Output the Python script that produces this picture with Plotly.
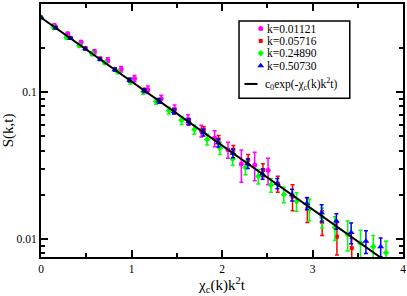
import plotly.graph_objects as go

# ---- data ----
pink_x = [0.1476 * i for i in range(18)]
pink_y = [0.320, 0.2836, 0.2484, 0.2172, 0.1874, 0.1643, 0.1428, 0.1231, 0.1035, 0.0899,
          0.0765, 0.0651, 0.0544, 0.0485, 0.0405, 0.0324, 0.0319, 0.0294]
pink_err = [0.004, 0.006, 0.006, 0.006, 0.006, 0.006, 0.006, 0.006, 0.006, 0.005,
            0.005, 0.005, 0.005, 0.006, 0.005, 0.008, 0.007, 0.006]

red_x = [0.1635 * i for i in range(22)]
red_y = [0.320, 0.2740, 0.2330, 0.1975, 0.1680, 0.1425, 0.1210, 0.1028, 0.0873, 0.0742,
         0.0630, 0.0549, 0.0475, 0.0405, 0.0346, 0.0295, 0.0238, 0.0195, 0.0161, 0.0131,
         0.0104, 0.0087]
red_err = [0.004, 0.004, 0.004, 0.004, 0.004, 0.003, 0.003, 0.003, 0.003, 0.003,
           0.003, 0.003, 0.003, 0.0028, 0.003, 0.003, 0.003, 0.0039, 0.0031, 0.0025,
           0.0026, 0.0014]

green_x = [0.1412 * i for i in range(28)]
green_y = [0.320, 0.2737, 0.2348, 0.2064, 0.1819, 0.1580, 0.1372, 0.1173, 0.1006, 0.0864,
           0.0748, 0.0641, 0.0555, 0.0476, 0.0416, 0.0351, 0.0307, 0.0267, 0.0233, 0.0201,
           0.0181, 0.0160, 0.0141, 0.0120, 0.0108, 0.0094, 0.0089, 0.0081]
green_err = [0.006, 0.006, 0.006, 0.005, 0.005, 0.004, 0.004, 0.004, 0.004, 0.004,
             0.004, 0.004, 0.004, 0.004, 0.004, 0.0035, 0.0033, 0.003, 0.0025, 0.0024,
             0.0026, 0.0027, 0.0022, 0.0022, 0.0025, 0.0021, 0.0017, 0.0016]

blue_x = [0.1632 * i for i in range(24)]
blue_y = [0.320, 0.2718, 0.2309, 0.1961, 0.1666, 0.1415, 0.1202, 0.1021, 0.0867, 0.0737,
          0.0626, 0.0531, 0.0451, 0.0383, 0.0326, 0.0277, 0.0239, 0.0200, 0.0175, 0.0151,
          0.0133, 0.0111, 0.0097, 0.0089]
blue_err = [0.003, 0.003, 0.003, 0.003, 0.003, 0.003, 0.003, 0.003, 0.003, 0.003,
            0.003, 0.003, 0.0028, 0.0026, 0.0024, 0.0022, 0.0019, 0.0018, 0.0016, 0.0020,
            0.0016, 0.0018, 0.0017, 0.0013]

fit_x = [0.0, 3.85]
fit_y = [0.320, 0.00681]

series_names = ["k=0.01121", "k=0.05716", "k=0.24890", "k=0.50730"]
fit_name = "c<sub>0</sub>exp(-χ<sub>c</sub>(k)k<sup>2</sup>t)"

x_ticks = [0, 1, 2, 3, 4]
x_minor = [0.5, 1.5, 2.5, 3.5]
y_ticks = [0.01, 0.1]
y_ticktext = ["0.01", "0.1"]
y_minor = [0.008, 0.009, 0.02, 0.03, 0.04, 0.05, 0.06, 0.07, 0.08, 0.09, 0.2]

FONT = "Liberation Serif"
colors = ["#ff00ff", "#ff0000", "#00ff00", "#0000ff"]
symbols = ["circle", "square", "diamond", "triangle-up"]
sizes = [5, 4, 5, 6]

fig = go.Figure()
all_series = [(pink_x, pink_y, pink_err), (red_x, red_y, red_err),
              (green_x, green_y, green_err), (blue_x, blue_y, blue_err)]
for (xs, ys, es), c, s, sz, nm in zip(all_series, colors, symbols, sizes, series_names):
    fig.add_trace(go.Scatter(
        x=xs, y=ys, mode="markers", name=nm, showlegend=False,
        marker=dict(color=c, symbol=s, size=sz, line=dict(width=0)),
        error_y=dict(type="data", array=es, visible=True, color=c, thickness=1.5, width=2),
    ))

fig.add_trace(go.Scatter(x=fit_x, y=fit_y, mode="lines", showlegend=False,
                         line=dict(color="black", width=2)))

# ---- hand-built legend (overlay axes in 0..1 coordinates) ----
row_y = [0.903, 0.854, 0.805, 0.756]
for ry, c, s, sz, nm in zip(row_y, colors, symbols, sizes, series_names):
    fig.add_trace(go.Scatter(x=[0.607], y=[ry], xaxis="x2", yaxis="y2", mode="markers",
                             showlegend=False, hoverinfo="skip",
                             marker=dict(color=c, symbol=s, size=sz, line=dict(width=0))))
    fig.add_annotation(x=0.621, y=ry, xref="paper", yref="paper", text=nm, showarrow=False,
                       xanchor="left", yanchor="middle", borderpad=0,
                       font=dict(family=FONT, size=11.5, color="black"))
fig.add_trace(go.Scatter(x=[0.562, 0.598], y=[0.684, 0.684], xaxis="x2", yaxis="y2",
                         mode="lines", showlegend=False, hoverinfo="skip",
                         line=dict(color="black", width=2)))
fig.add_annotation(x=0.617, y=0.684, xref="paper", yref="paper", text=fit_name,
                   showarrow=False, xanchor="left", yanchor="middle", borderpad=0,
                   font=dict(family=FONT, size=11.5, color="black"))
fig.add_shape(type="rect", xref="paper", yref="paper", x0=0.547, x1=0.853, y0=0.627, y1=0.933,
              line=dict(color="black", width=1.5), fillcolor="rgba(0,0,0,0)")

axis_common = dict(showline=True, linecolor="black", linewidth=2, mirror="allticks",
                   ticks="inside", tickcolor="black", tickwidth=2, ticklen=7,
                   showgrid=False, zeroline=False,
                   tickfont=dict(family=FONT, size=11.5, color="black"))

fig.update_layout(
    width=407, height=296,
    margin=dict(l=38, r=3, t=2, b=39),
    paper_bgcolor="white", plot_bgcolor="white",
    showlegend=False,
    xaxis=dict(range=[0, 4], tickmode="array", tickvals=x_ticks,
               minor=dict(tickmode="array", tickvals=x_minor, ticks="inside", ticklen=4,
                          tickwidth=2, tickcolor="black", showgrid=False),
               title=dict(text="χ<sub>c</sub>(k)k<sup>2</sup>t",
                          font=dict(family=FONT, size=15, color="black"), standoff=6),
               **axis_common),
    yaxis=dict(type="log", range=[-2.121, -0.403], tickmode="array", tickvals=y_ticks,
               ticktext=y_ticktext,
               minor=dict(tickmode="array", tickvals=y_minor, ticks="inside", ticklen=4,
                          tickwidth=2, tickcolor="black", showgrid=False),
               title=dict(text="S(k,t)", font=dict(family=FONT, size=15, color="black"),
                          standoff=4),
               **axis_common),
    xaxis2=dict(overlaying="x", range=[0, 1], visible=False, fixedrange=True),
    yaxis2=dict(overlaying="y", range=[0, 1], visible=False, fixedrange=True),
)

fig.write_html("out.html", config={"displayModeBar": False},
               post_script="document.body.style.margin='0';document.body.style.padding='0';")
